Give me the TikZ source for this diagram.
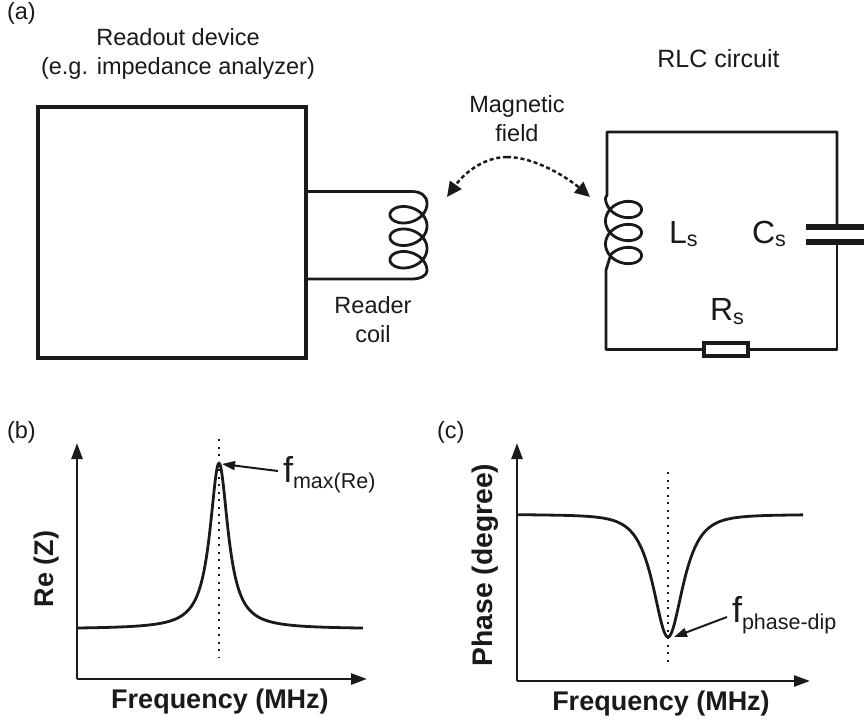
\documentclass[tikz,border=0pt]{standalone}
\usepackage{fontspec}
\setmainfont{Liberation Sans}
\usetikzlibrary{arrows.meta}
\definecolor{ink}{HTML}{1A1A1A}
\newcommand{\lab}[2]{\fontsize{#1}{#2}\selectfont}
\newcommand{\subs}[2]{\raisebox{-#2pt}{\lab{21.5}{24}#1}}
\tikzset{
  x=1pt,y=-1pt,
  every node/.style={inner sep=0pt,outer sep=0pt,text=ink,align=center},
  wire/.style={draw=ink,line width=2.8pt,line join=round,line cap=round},
  txt/.style={font=\lab{23.5}{29}},
  tag/.style={font=\lab{23.5}{29},anchor=base west},
  bold/.style={font=\lab{27}{30}\bfseries},
  sym/.style={font=\lab{32}{36},anchor=base west},
  bigf/.style={font=\lab{36}{40},anchor=base west},
  axis/.style={draw=ink,line width=2.5pt,-{Triangle[length=16pt,width=11pt]}},
  curve/.style={draw=ink,line width=2.8pt,line join=round},
  dots/.style={draw=ink,line width=2pt,dash pattern=on 2pt off 5.5pt},
  pointer/.style={draw=ink,line width=2pt,-{Triangle[length=13pt,width=9pt]}},
  field/.style={draw=ink,line width=2.5pt,dash pattern=on 4pt off 2.8pt},
  fieldtip/.style={-{Triangle[length=15pt,width=14pt]}}
}
\begin{document}
\begin{tikzpicture}
\useasboundingbox (0,0) rectangle (864,722);
% panel a
\node[tag] (pa) at (7,20) {(a)};
\node[txt,anchor=base] (rd) at (178,75) {Readout device\\(e.g. impedance analyzer)};
\node[font=\lab{25}{29},anchor=base] (rlc) at (718.5,68) {RLC circuit};
\node[txt,anchor=base] (mf) at (517,142) {Magnetic\\field};
\node[txt,anchor=base] (rc) at (373,342) {Reader\\coil};
\node[draw=ink,line width=4.7pt,minimum width=268pt,minimum height=251pt] (readout) at (172,232.5) {};
% reader coil
\coordinate (rt) at (306,191.5);
\coordinate (rb) at (306,279);
\draw[wire] (rt) -- (412,191.5) .. controls (421,191.5) and (427,196) .. (427,203.5)
  plot[variable=\t,domain=0:1080,samples=217,smooth] ({408.5+18.5*cos(\t)},{203.5+\t/16+13.4*sin(\t)})
  .. controls (427,275) and (421,279) .. (412,279) -- (rb);
% RLC loop
\coordinate (c1) at (607,132);
\coordinate (c2) at (837,132);
\coordinate (c3) at (837,349.5);
\coordinate (c4) at (606,349.5);
\coordinate (capa) at (837,227);
\coordinate (capb) at (837,242);
\node[draw=ink,line width=4pt,fill=white,minimum width=44pt,minimum height=13pt] (res) at (725.5,349.5) {};
\draw[wire] (capa) -- (c2) -- (c1) -- (607,195) .. controls (607,196) and (605.5,196) .. (605.5,198)
  plot[variable=\t,domain=0:1035,samples=207,smooth] ({623.5-18*cos(\t)},{198+\t/15.65+13.4*sin(\t)})
  -- (606,270) -- (c4) -- (res.west);
\draw[wire] (res.east) -- (c3) -- (capb);
\fill[ink] (806,224) rectangle (864,230);
\fill[ink] (806,239) rectangle (864,245);
\node[sym] (ls) at (669,243) {L\subs{s}{3.5}};
\node[sym] (cs) at (752,243) {C\subs{s}{3.5}};
\node[sym] (rs) at (710,320) {R\subs{s}{4}};
% field arrow
\coordinate (fa) at (447,197);
\coordinate (fb) at (590,197);
\draw[field,fieldtip] (507,157) .. controls (485,157) and (465,172) .. (fa);
\draw[field,fieldtip] (507,157) .. controls (535,157) and (568,178) .. (fb);
% panel b
\node[tag] (pb) at (7,438) {(b)};
\coordinate (o1) at (77,679);
\coordinate (y1) at (77,443);
\coordinate (x1) at (367,679);
\coordinate (p1) at (219,463);
\coordinate (d1a) at (219,439);
\coordinate (d1b) at (219,657);
\draw[dots] (d1a) -- (d1b);
\draw[axis] (o1) -- (y1);
\draw[axis] (o1) -- (x1);
\draw[curve] plot[variable=\x,domain=77:363,samples=287] (\x,{629-166/(1+((\x-219)/11)^2)});
\node[bigf] (fm) at (283,482) {f\subs{max(Re)}{6}};
\coordinate (fmo) at (278,471);
\coordinate (p1t) at (222,464);
\draw[pointer] (fmo) -- (p1t);
\node[bold] (xl1) at (220,702) {Frequency (MHz)};
\node[bold,rotate=90] (yl1) at (47,569) {Re (Z)};
% panel c
\node[tag] (pc) at (437,438) {(c)};
\coordinate (o2) at (517,681);
\coordinate (y2) at (517,443);
\coordinate (x2) at (810,681);
\coordinate (d2a) at (668,472);
\coordinate (d2b) at (668,662);
\draw[dots] (d2a) -- (d2b);
\draw[axis] (o2) -- (y2);
\draw[axis] (o2) -- (x2);
\draw[curve] plot[variable=\x,domain=517:803,samples=287] (\x,{514+123*(0.88/cosh(min(abs(\x-668)/12.5,8))+0.12/(1+((\x-668)/32)^2))});
\node[bigf] (fp) at (732,622) {f\subs{phase-dip}{7}};
\coordinate (fpo) at (727,617);
\coordinate (p2t) at (674,637);
\draw[pointer] (fpo) -- (p2t);
\node[bold] (xl2) at (661,704) {Frequency (MHz)};
\node[font=\lab{28.3}{30}\bfseries,rotate=90] (yl2) at (485,565) {Phase (degree)};
\end{tikzpicture}
\end{document}
